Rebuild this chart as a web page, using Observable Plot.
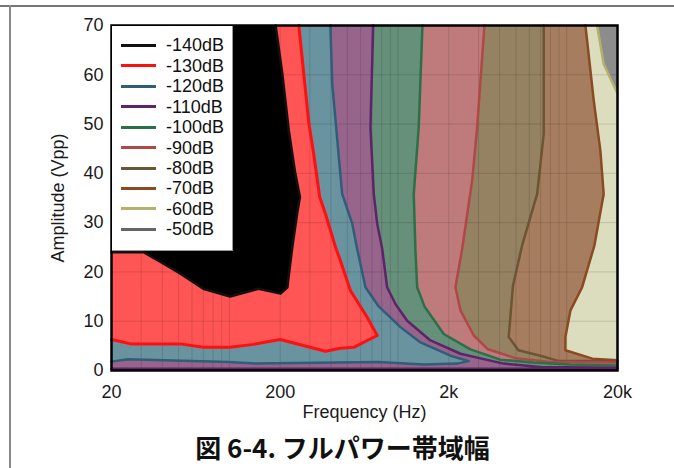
<!DOCTYPE html>
<html>
<head>
<meta charset="utf-8">
<script src="https://cdn.jsdelivr.net/npm/d3@7"></script>
<script src="https://cdn.jsdelivr.net/npm/@observablehq/plot@0.6"></script>
<style>
  html, body { margin: 0; padding: 0; background: white; }
  #wrap { position: relative; width: 674px; height: 468px; overflow: hidden; font-family: "Liberation Sans", Arial, sans-serif; }
  #chart { position: absolute; left: 0; top: 0; }
  .hline { position: absolute; left: 0; top: 5px; width: 674px; height: 2px; background: #777; }
  .vline { position: absolute; left: 9px; top: 5px; width: 2px; height: 463px; background: #888; }
  #legend { position: absolute; left: 112px; top: 26px; width: 120px; height: 224px; background: white;
            border-right: 1px solid #999; border-bottom: 1px solid #999; }
  #legend .row { position: absolute; left: 0; height: 20px; width: 120px; }
  #legend .sw { position: absolute; left: 9px; top: 8.5px; width: 35px; height: 3px; }
  #legend .lb { position: absolute; left: 54px; top: 0; font-size: 18px; line-height: 20px; color: #111; }
  #caption { position: absolute; left: 0; top: 428px; width: 674px; padding-left: 11px; box-sizing: border-box;
             text-align: center; font: bold 26px "Noto Sans CJK JP", "Noto Sans", sans-serif; line-height: 38px; color: #111; }
</style>
</head>
<body>
<div id="wrap">
  <div class="hline"></div>
  <div class="vline"></div>
  <div id="chart"></div>
  <div id="legend"></div>
  <div id="caption">図 6-4. フルパワー帯域幅</div>
</div>
<script>
// ---- Data (frequency in Hz, amplitude in Vpp) ----
const levels = ["-140dB", "-130dB", "-120dB", "-110dB", "-100dB", "-90dB", "-80dB", "-70dB", "-60dB", "-50dB"];
const lineColors = ["#111111", "#ff1010", "#2e5e78", "#5e2468", "#2a7048", "#b04848", "#6b5533", "#8b4a22", "#b5b06a", "#666666"];
const fillColors = ["#000000", "#ff5555", "#6a93a0", "#97658c", "#66907a", "#bf7b7b", "#958263", "#a77d60", "#dcdcbf", "#8c8c8c"];

const xDomain = [20, 20000];
const yDomain = [0, 70];
const xTicks = [20, 200, 2000, 20000];
const xTickLabels = ["20", "200", "2k", "20k"];
const yTicks = [0, 10, 20, 30, 40, 50, 60, 70];
const gridXTicks = [30, 40, 50, 60, 70, 80, 90, 100, 200, 300, 400, 500, 600, 700, 800, 900,
                    1000, 2000, 3000, 4000, 5000, 6000, 7000, 8000, 9000, 10000];
const gridYTicks = [10, 20, 30, 40, 50, 60];

// contour lines, listed from the top edge downwards
const c140 = [[188,70],[206,60.2],[225,48.7],[246,39.9],[262,35.2],[252,31.8],[236,25.0],[223,18.3],[221,16.9],
              [201,15.6],[149,16.6],[101,15.0],[70,16.6],[51,19.7],[41,21.6],[31,24.0],[20,24.0]];
const c130 = [[258,70],[276,60.2],[296,50.1],[316,44],[343,35.2],[371,31.8],[426,25.0],[455,22.3],[522,16.2],
              [656,10.8],[752,7.1],[546,4.7],[455,4.5],[371,3.9],[200,6.3],[139,5.3],[101,4.7],[70,4.7],
              [51,5.4],[26,5.4],[20,6.3]];
const c120 = [[397,70],[407,58.2],[426,50.7],[466,35.9],[535,29.8],[572,24.7],[641,16.9],[768,13.0],[1033,8.8],
              [1358,5.7],[2045,3.0],[2625,1.9],[2240,1.4],[1420,1.2],[768,1.7],[246,1.5],[143,1.4],[99,1.7],
              [25,2.3],[20,1.8]];
const c110 = [[712,70],[686,49.3],[718,35.8],[752,29.8],[805,24.7],[861,16.9],[965,13.5],[1132,10.1],[1556,6.1],
              [2345,3.4],[4215,1.4],[6980,0.7],[20000,0.55],[20000,0.35],[20,0.35]];
const c100 = [[1395,70],[1326,49.4],[1239,35.8],[1268,24.3],[1298,16.9],[1434,13.0],[1866,7.4],[2685,4.3],
              [4045,2.2],[6340,1.6],[10520,1.2],[20000,1.0]];
const c90  = [[3252,70],[2945,49.4],[2750,38.5],[2400,24.7],[2188,16.9],[2345,12.2],[2810,7.1],[3410,4.3],
              [4965,2.5],[7785,1.8],[20000,1.6]];
const c80  = [[7305,70],[7305,48.0],[6675,35.8],[5440,25.4],[4800,17.2],[4530,6.8],[5170,4.1],[6980,3.0],
              [8810,2.0],[20000,1.9]];
const c70  = [[12910,70],[14455,54.8],[15830,44.6],[16560,35.8],[14600,25.4],[12340,16.9],[10520,12.2],
              [9820,6.8],[9820,4.1],[14200,2.4],[20000,2.1]];
const c60  = [[15140,70],[16560,62.2],[20000,56.2]];

// which side of the plot closes each contour's region
const contours = [
  {level: "-140dB", pts: c140, close: "left"},
  {level: "-130dB", pts: c130, close: "left"},
  {level: "-120dB", pts: c120, close: "left"},
  {level: "-110dB", pts: c110, close: "left"},
  {level: "-100dB", pts: c100, close: "right"},
  {level: "-90dB",  pts: c90,  close: "right"},
  {level: "-80dB",  pts: c80,  close: "right"},
  {level: "-70dB",  pts: c70,  close: "right"},
  {level: "-60dB",  pts: c60,  close: "right"}
];

// ---- Build marks ----
const [x0, x1] = xDomain, [y0, y1] = yDomain;
function polygon(c) {
  const closing = c.close === "left" ? [[x0, y1]] : [[x1, y0], [x0, y0], [x0, y1]];
  return c.pts.concat(closing);
}
const colorOf = (lvl, arr) => arr[levels.indexOf(lvl)];

const fillMarks = contours.slice().reverse().map(c =>
  Plot.line(polygon(c), {x: d => d[0], y: d => d[1], fill: colorOf(c.level, fillColors), stroke: "none", curve: "linear"})
);
const lineMarks = contours.slice().reverse().map(c =>
  Plot.line(c.pts, {x: d => d[0], y: d => d[1], stroke: colorOf(c.level, lineColors),
                    strokeWidth: c.level === "-130dB" ? 3 : 2.5, curve: "linear", strokeLinejoin: "round"})
);

const chart = Plot.plot({
  width: 674,
  height: 425,
  marginLeft: 111,
  marginRight: 57,
  marginTop: 25,
  marginBottom: 55,
  style: {fontFamily: "'Liberation Sans', Arial, sans-serif", fontSize: "18px", color: "#1a1a1a", background: "transparent", overflow: "visible"},
  x: {type: "log", domain: xDomain, ticks: xTicks, tickFormat: d => xTickLabels[xTicks.indexOf(d)], tickSize: 0, tickPadding: 15, label: null},
  y: {domain: yDomain, ticks: yTicks, tickSize: 0, tickPadding: 8, label: null},
  marks: [
    Plot.frame({fill: fillColors[levels.indexOf("-50dB")], stroke: "none"}),
    ...fillMarks,
    Plot.gridX(gridXTicks, {stroke: "#000", strokeOpacity: 0.13, strokeWidth: 1}),
    Plot.gridY(gridYTicks, {stroke: "#000", strokeOpacity: 0.13, strokeWidth: 1}),
    ...lineMarks,
    Plot.frame({stroke: "#000", strokeWidth: 2.5}),
    Plot.text(["Amplitude (Vpp)"], {frameAnchor: "left", rotate: -90, dx: -53, textAnchor: "middle", lineAnchor: "middle", fontSize: 18, fill: "#1a1a1a"}),
    Plot.text(["Frequency (Hz)"], {frameAnchor: "bottom", dy: 42, textAnchor: "middle", lineAnchor: "middle", fontSize: 18, fill: "#1a1a1a"})
  ]
});
document.getElementById("chart").appendChild(chart);

// ---- Legend ----
const legend = document.getElementById("legend");
levels.forEach((lvl, i) => {
  const row = document.createElement("div");
  row.className = "row";
  row.style.top = (9.3 + i * 20.45) + "px";
  const sw = document.createElement("div");
  sw.className = "sw";
  sw.style.background = lineColors[i];
  const lb = document.createElement("div");
  lb.className = "lb";
  lb.textContent = lvl;
  row.appendChild(sw);
  row.appendChild(lb);
  legend.appendChild(row);
});
</script>
</body>
</html>
